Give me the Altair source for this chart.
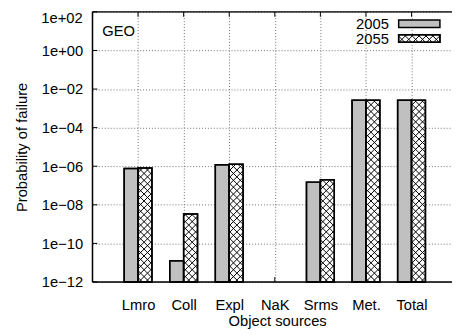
import json
import math
import altair as alt
import pandas as pd

# ---- data ----
categories = ["Lmro", "Coll", "Expl", "NaK", "Srms", "Met.", "Total"]
years = ["2005", "2055"]
p2005 = [7.6e-7, 1.27e-11, 1.18e-6, None, 1.5e-7, 2.6e-3, 2.6e-3]
p2055 = [8.2e-7, 3.3e-9, 1.26e-6, None, 2.0e-7, 2.6e-3, 2.6e-3]
y_ticks = [1e-12, 1e-10, 1e-8, 1e-6, 1e-4, 1e-2, 1e0, 1e2]

# ---- layout / style constants ----
W, H = 366, 275
XSTEP = 46.4            # pixels per category step
XMAX = W / XSTEP
YMIN, YMAX = 1e-12, 1e2
DEC = math.log10(YMAX) - math.log10(YMIN)
BARW = 0.305            # bar width in category units
HATCH = 7.0             # hatch spacing (px)
FONT = "Liberation Sans"
GRAY = "#c0c0c0"


def x_of_px(p):
    return p / XSTEP


def y_of_px(p):
    return 10 ** (math.log10(YMAX) - p * DEC / H)


def px_y(v):
    return (math.log10(YMAX) - math.log10(v)) * H / DEC


def hatch(x0, x1, y0, y1, d):
    """Cross-hatch segments clipped to a pixel rectangle."""
    segs = []
    for sgn in (1, -1):
        vals = [x0 + sgn * y0, x0 + sgn * y1, x1 + sgn * y0, x1 + sgn * y1]
        cmin, cmax = min(vals), max(vals)
        k = math.ceil(cmin / d)
        while k * d <= cmax:
            c = k * d
            pts = []
            for x in (x0, x1):
                y = sgn * (c - x)
                if y0 - 1e-9 <= y <= y1 + 1e-9:
                    pts.append((x, y))
            for y in (y0, y1):
                x = c - sgn * y
                if x0 - 1e-9 <= x <= x1 + 1e-9:
                    pts.append((x, y))
            pts = sorted(set((round(a, 6), round(b, 6)) for a, b in pts))
            if len(pts) >= 2 and pts[0] != pts[-1]:
                segs.append((pts[0], pts[-1]))
            k += 1
    return segs


# ---- bar table ----
rows = []
for i, cat in enumerate(categories):
    pos = i + 1
    for yr, vals, off in ((years[0], p2005, -BARW), (years[1], p2055, 0.0)):
        v = vals[i]
        if v is None:
            continue
        rows.append({"cat": cat, "year": yr, "value": v, "base": YMIN,
                     "x0": pos + off, "x1": pos + off + BARW})
bars = pd.DataFrame(rows)

# ---- hatch table (decoration for the 2055 bars and legend swatch) ----
hrows = []
for r in rows:
    if r["year"] != years[1]:
        continue
    for (a, b) in hatch(r["x0"] * XSTEP, r["x1"] * XSTEP, px_y(r["value"]), H, HATCH):
        hrows.append({"x": x_of_px(a[0]), "x2": x_of_px(b[0]),
                      "y": y_of_px(a[1]), "y2": y_of_px(b[1])})
# legend swatch for 2055
LX0, LX1 = 311.7, 353.7
L1Y0, L1Y1 = 8.3, 16.0
L2Y0, L2Y1 = 23.3, 31.0
for (a, b) in hatch(LX0, LX1, L2Y0, L2Y1, HATCH):
    hrows.append({"x": x_of_px(a[0]), "x2": x_of_px(b[0]),
                  "y": y_of_px(a[1]), "y2": y_of_px(b[1])})
hatch_df = pd.DataFrame(hrows)

ticks_df = pd.DataFrame({"t": y_ticks})
top_tick_df = pd.DataFrame({"t": [y_ticks[-1]]})
cat_df = pd.DataFrame({"pos": list(range(1, len(categories) + 1))})

xscale = alt.Scale(domain=[0, XMAX], nice=False, zero=False)
yscale = alt.Scale(type="log", domain=[YMIN, YMAX], nice=False)

label_expr_x = json.dumps(categories).replace('"', "'") + "[datum.value - 1]"
fmt_expr = ("'1e' + (datum.{f} >= 1 ? '+' : '\u2212') + "
            "(abs(round(log(datum.{f})/LN10)) < 10 ? '0' : '') + "
            "abs(round(log(datum.{f})/LN10))")
# top label drawn separately (nudged down so it is not cut by the page edge)
label_expr_y = "datum.value >= %g ? '' : " % YMAX + fmt_expr.format(f="value")

xaxis = alt.Axis(values=list(range(1, len(categories) + 1)), labelExpr=label_expr_x,
                 labelFontSize=15, labelBaseline="alphabetic", labelPadding=28.5,
                 labelFlush=False, ticks=False, domain=False, grid=True,
                 gridDash=[1, 2], gridColor="#707070", gridWidth=1,
                 title="Object sources", titleFontSize=15, titleFontWeight="normal",
                 titleBaseline="alphabetic", titleY=44, titleX=188)
yaxis = alt.Axis(values=y_ticks, labelExpr=label_expr_y, labelFontSize=15,
                 labelPadding=10, ticks=False, domain=False, grid=True,
                 gridDash=[1, 2], gridColor="#707070", gridWidth=1,
                 labelOverlap=False,
                 title="Probability of failure", titleFontSize=15,
                 titleFontWeight="normal", titleBaseline="alphabetic",
                 titleX=-67, titleY=H / 2)

color = alt.Color("year:N", scale=alt.Scale(domain=years, range=[GRAY, "white"]), legend=None)

bar_fill = alt.Chart(bars).mark_rect(stroke="black", strokeWidth=1.5).encode(
    x=alt.X("x0:Q", scale=xscale, axis=xaxis),
    x2="x1:Q",
    y=alt.Y("value:Q", scale=yscale, axis=yaxis),
    y2="base:Q",
    fill=color,
)

top_label = alt.Chart(top_tick_df).transform_calculate(
    lab=fmt_expr.format(f="t")
).mark_text(align="right", baseline="middle", fontSize=15, font=FONT,
            color="black", dx=-10, dy=6).encode(
    x=alt.value(0), y=alt.Y("t:Q", scale=yscale), text="lab:N")

hatch_lines = alt.Chart(hatch_df).mark_rule(color="black", strokeWidth=1).encode(
    x=alt.X("x:Q", scale=xscale), x2="x2:Q",
    y=alt.Y("y:Q", scale=yscale), y2="y2:Q",
)

bar_outline = alt.Chart(bars).mark_rect(stroke="black", strokeWidth=1.5, fillOpacity=0).encode(
    x=alt.X("x0:Q", scale=xscale), x2="x1:Q",
    y=alt.Y("value:Q", scale=yscale), y2="base:Q",
)

left_ticks = alt.Chart(ticks_df).mark_rule(color="black", strokeWidth=1).encode(
    y=alt.Y("t:Q", scale=yscale), x=alt.value(0), x2=alt.value(5))
bottom_ticks = alt.Chart(cat_df).mark_rule(color="black", strokeWidth=1).encode(
    x=alt.X("pos:Q", scale=xscale), y=alt.value(H), y2=alt.value(H - 5))
top_ticks = alt.Chart(cat_df).mark_rule(color="black", strokeWidth=1).encode(
    x=alt.X("pos:Q", scale=xscale), y=alt.value(0), y2=alt.value(5))

one = pd.DataFrame({"k": [0]})
border_left = alt.Chart(one).mark_rule(color="black", strokeWidth=1.5).encode(
    x=alt.value(0), y=alt.value(0), y2=alt.value(H))
border_bottom = alt.Chart(one).mark_rule(color="black", strokeWidth=1.5).encode(
    x=alt.value(0), x2=alt.value(W), y=alt.value(H))
border_top = alt.Chart(one).mark_rule(color="black", strokeWidth=1.5).encode(
    x=alt.value(0), x2=alt.value(W), y=alt.value(0))

geo = alt.Chart(one).mark_text(align="left", baseline="alphabetic", fontSize=15,
                               font=FONT, color="black").encode(
    x=alt.value(10), y=alt.value(25), text=alt.value("GEO"))

leg_t1 = alt.Chart(one).mark_text(align="right", baseline="alphabetic", fontSize=15,
                                  font=FONT, color="black").encode(
    x=alt.value(301.7), y=alt.value(17.7), text=alt.value(years[0]))
leg_t2 = alt.Chart(one).mark_text(align="right", baseline="alphabetic", fontSize=15,
                                  font=FONT, color="black").encode(
    x=alt.value(301.7), y=alt.value(32.7), text=alt.value(years[1]))
leg_r1 = alt.Chart(one).mark_rect(fill=GRAY, stroke="black", strokeWidth=1.5).encode(
    x=alt.value(LX0), x2=alt.value(LX1), y=alt.value(L1Y0), y2=alt.value(L1Y1))
leg_r2_fill = alt.Chart(one).mark_rect(fill="white", stroke="black", strokeWidth=1.5).encode(
    x=alt.value(LX0), x2=alt.value(LX1), y=alt.value(L2Y0), y2=alt.value(L2Y1))
leg_r2_out = alt.Chart(one).mark_rect(fillOpacity=0, stroke="black", strokeWidth=1.5).encode(
    x=alt.value(LX0), x2=alt.value(LX1), y=alt.value(L2Y0), y2=alt.value(L2Y1))

chart = alt.layer(
    bar_fill, leg_r1, leg_r2_fill, hatch_lines, bar_outline, leg_r2_out,
    left_ticks, bottom_ticks, top_ticks,
    border_left, border_bottom, border_top,
    geo, leg_t1, leg_t2, top_label,
).properties(
    width=W, height=H,
    autosize=alt.AutoSizeParams(type="none"),
    padding={"left": 86, "top": 1, "right": 0, "bottom": 50},
    background="white",
).configure_view(strokeWidth=0).configure(font=FONT).configure_axis(
    labelFont=FONT, titleFont=FONT, labelColor="black", titleColor="black")

chart.save("out.html", embed_options={"renderer": "svg", "actions": False})
